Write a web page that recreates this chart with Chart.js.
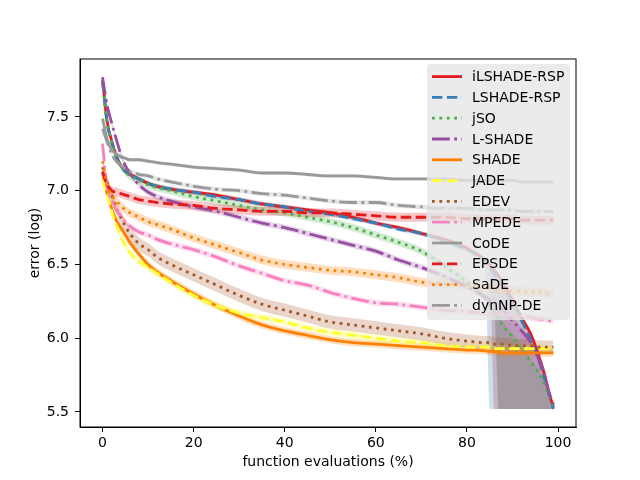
<!DOCTYPE html>
<html>
<head>
<meta charset="utf-8">
<script src="https://cdn.jsdelivr.net/npm/chart.js@4.4.0/dist/chart.umd.min.js"></script>
<style>
  body { margin: 0; background: #fff; }
</style>
</head>
<body>
<canvas id="chart" width="640" height="480"></canvas>
<script>
// eixo X: avaliações de função (%)
const evals = [0,1,2,3,4,5,6,8,10,12,15,20,25,30,35,40,45,50,55,60,65,70,75,80,84,85,86,87,88,90,92,94,96,97,98,99];

// curvas médias (log do erro)
const ilshadeRsp = [7.75,7.47,7.34,7.24,7.17,7.13,7.11,7.08,7.05,7.03,7.01,6.99,6.97,6.94,6.91,6.89,6.87,6.85,6.82,6.78,6.75,6.71,6.67,6.61,6.53,6.50,6.46,6.42,6.37,6.26,6.14,6.03,5.86,5.76,5.63,5.53];
const lshadeRsp  = [7.74,7.46,7.33,7.23,7.17,7.13,7.11,7.08,7.05,7.03,7.01,6.99,6.96,6.94,6.91,6.89,6.86,6.84,6.81,6.78,6.74,6.71,6.66,6.60,6.52,6.48,6.44,6.40,6.35,6.24,6.12,5.99,5.83,5.73,5.62,5.52];
const jso        = [7.74,7.46,7.33,7.23,7.17,7.13,7.10,7.07,7.04,7.02,7.00,6.96,6.93,6.90,6.87,6.85,6.82,6.79,6.75,6.70,6.65,6.59,6.49,6.38,6.27,6.22,6.17,6.13,6.08,6.01,5.93,5.84,5.75,5.69,5.61,5.54];
const lshade     = [7.77,7.58,7.46,7.35,7.25,7.17,7.12,7.04,6.99,6.96,6.93,6.89,6.86,6.82,6.78,6.75,6.71,6.67,6.63,6.59,6.53,6.48,6.42,6.35,6.28,6.26,6.24,6.22,6.19,6.12,6.05,5.97,5.84,5.76,5.64,5.55];
const shade      = [7.12,6.98,6.88,6.80,6.75,6.70,6.65,6.57,6.50,6.45,6.39,6.30,6.22,6.15,6.09,6.05,6.02,5.99,5.97,5.96,5.95,5.94,5.93,5.92,5.915,5.91,5.91,5.905,5.90,5.90,5.90,5.90,5.90,5.90,5.90,5.90];
const jade       = [7.07,6.97,6.86,6.77,6.69,6.63,6.58,6.52,6.48,6.44,6.38,6.29,6.22,6.17,6.14,6.11,6.07,6.04,6.02,6.00,5.98,5.97,5.95,5.94,5.94,5.94,5.93,5.93,5.93,5.93,5.93,5.93,5.93,5.93,5.93,5.93];
const edev       = [7.16,7.06,6.97,6.88,6.82,6.76,6.71,6.64,6.60,6.55,6.50,6.43,6.36,6.29,6.23,6.19,6.15,6.11,6.09,6.07,6.05,6.03,6.00,5.98,5.97,5.97,5.96,5.96,5.96,5.95,5.95,5.95,5.94,5.94,5.94,5.94];
const mpede      = [7.32,7.02,6.94,6.87,6.83,6.79,6.76,6.72,6.70,6.67,6.64,6.60,6.55,6.49,6.44,6.39,6.36,6.31,6.27,6.24,6.23,6.21,6.19,6.18,6.17,6.17,6.17,6.16,6.16,6.15,6.15,6.14,6.13,6.13,6.12,6.12];
const code       = [7.49,7.35,7.28,7.25,7.23,7.22,7.21,7.21,7.20,7.19,7.18,7.16,7.15,7.14,7.12,7.12,7.11,7.10,7.10,7.09,7.08,7.08,7.08,7.07,7.07,7.07,7.07,7.07,7.07,7.07,7.06,7.06,7.06,7.06,7.06,7.06];
const epsde      = [7.13,7.04,7.00,6.99,6.98,6.97,6.96,6.94,6.93,6.92,6.91,6.90,6.88,6.87,6.86,6.86,6.85,6.85,6.84,6.83,6.82,6.82,6.82,6.81,6.81,6.81,6.81,6.81,6.81,6.81,6.80,6.80,6.80,6.80,6.80,6.80];
const sade       = [7.20,7.04,6.97,6.93,6.90,6.87,6.85,6.82,6.79,6.77,6.74,6.68,6.63,6.58,6.53,6.50,6.48,6.46,6.45,6.43,6.41,6.38,6.37,6.36,6.34,6.34,6.33,6.33,6.33,6.32,6.32,6.31,6.31,6.31,6.30,6.30];
const dynnpde    = [7.42,7.33,7.25,7.20,7.17,7.15,7.13,7.11,7.10,7.08,7.06,7.03,7.01,7.00,6.98,6.97,6.95,6.93,6.92,6.92,6.90,6.89,6.88,6.88,6.87,6.87,6.87,6.87,6.87,6.87,6.86,6.86,6.86,6.86,6.86,6.86];

// meia largura da faixa sombreada de cada algoritmo
const spreads = [0.015,0.015,0.025,0.02,0.025,0.025,0.045,0.02,0.012,0.03,0.03,0.015];

// limite inferior das faixas no final (a partir de 84%)
const tailFrom = 84;
const ilshadeTail   = [6.51,6.48,5.52,5.52,5.52,5.52,5.52,5.52,5.52,5.52,5.52,5.52];
const lshadeRspTail = [6.50,5.52,5.52,5.52,5.52,5.52,5.52,5.52,5.52,5.52,5.52,5.52];
const jsoTail       = [6.25,6.20,6.15,5.52,5.52,5.52,5.52,5.52,5.52,5.52,5.52,5.52];
const lshadeTail    = [6.26,6.24,6.22,5.52,5.52,5.52,5.52,5.52,5.52,5.52,5.52,5.52];

const names = ['iLSHADE-RSP','LSHADE-RSP','jSO','L-SHADE','SHADE','JADE','EDEV','MPEDE','CoDE','EPSDE','SaDE','dynNP-DE'];
const means = [ilshadeRsp, lshadeRsp, jso, lshade, shade, jade, edev, mpede, code, epsde, sade, dynnpde];
const tails = [ilshadeTail, lshadeRspTail, jsoTail, lshadeTail];

// ticks dos eixos
const xTicks = [0, 20, 40, 60, 80, 100];
const yTicks = [5.5, 6.0, 6.5, 7.0, 7.5];
const yTickLabels = ['5.5', '6.0', '6.5', '7.0', '7.5'];

// estilo (paleta Set1 + ciclo de tracejados)
const colors = ['#e41a1c','#377eb8','#4daf4a','#984ea3','#ff7f00','#ffff33','#a65628','#f781bf','#999999','#e41a1c','#ff7f00','#999999'];
const dashCycle = [[], [10.4, 4.5], [2.8, 4.6], [17.8, 4.4, 2.8, 4.4]];

function rgba(hex, a) {
    const n = parseInt(hex.slice(1), 16);
    return 'rgba(' + (n >> 16) + ',' + ((n >> 8) & 255) + ',' + (n & 255) + ',' + a + ')';
}

const tailIdx = evals.indexOf(tailFrom);
let datasets = [];
names.forEach((name, i) => {
    const m = means[i];
    const upper = evals.map((x, j) => ({x: x, y: m[j] + spreads[i]}));
    const lower = evals.map((x, j) => {
        if (tails[i] && j >= tailIdx) return {x: x, y: tails[i][j - tailIdx]};
        return {x: x, y: m[j] - spreads[i]};
    });
    //faixa: limite superior + inferior preenchido até o anterior
    datasets.push({ data: upper, borderWidth: 0, pointRadius: 0, fill: false, order: 200 - i, cubicInterpolationMode: 'monotone' });
    datasets.push({ data: lower, borderWidth: 0, pointRadius: 0, fill: '-1', backgroundColor: rgba(colors[i], 0.25), order: 200 - i, cubicInterpolationMode: 'monotone' });
    //linha média
    datasets.push({
        label: name,
        data: evals.map((x, j) => ({x: x, y: m[j]})),
        borderColor: colors[i],
        borderWidth: 2.8,
        borderDash: dashCycle[i % 4],
        borderCapStyle: 'butt',
        pointRadius: 0,
        fill: false,
        order: 50 - i,
        cubicInterpolationMode: 'monotone'
    });
});

// moldura completa + legenda dentro da área do gráfico
const framePlugin = {
    id: 'frame',
    afterDraw(chart) {
        const ctx = chart.ctx, a = chart.chartArea;
        ctx.save();

        //legenda
        const bx = 427, by = 64, bw = 143, bh = 256, r = 4;
        ctx.fillStyle = 'rgba(230,230,230,0.8)';
        ctx.beginPath();
        ctx.roundRect(bx, by, bw, bh, r);
        ctx.fill();
        ctx.font = '14px "DejaVu Sans"';
        ctx.textBaseline = 'middle';
        ctx.fillStyle = '#000';
        names.forEach((name, i) => {
            const y = 76.6 + i * 20.8;
            ctx.strokeStyle = colors[i];
            ctx.lineWidth = 2.8;
            ctx.lineCap = 'butt';
            ctx.setLineDash(dashCycle[i % 4]);
            ctx.beginPath();
            ctx.moveTo(432, y);
            ctx.lineTo(462, y);
            ctx.stroke();
            ctx.fillText(name, 472, y + 1);
        });

        ctx.setLineDash([]);
        ctx.strokeStyle = '#000';
        ctx.lineWidth = 1;
        ctx.strokeRect(a.left, a.top, a.right - a.left, a.bottom - a.top);
        ctx.restore();
    }
};

Chart.defaults.font.family = 'DejaVu Sans';
Chart.defaults.font.size = 14;
Chart.defaults.color = '#000';

let ctx = document.getElementById('chart');
let chart = new Chart(ctx, {
    type: 'line',
    data: { datasets: datasets },
    options: {
        responsive: false,
        animation: false,
        layout: { padding: { left: 0, top: 59, right: 64, bottom: 0 } },
        plugins: {
            legend: { display: false },
            tooltip: { enabled: false }
        },
        scales: {
            x: {
                type: 'linear',
                min: -4.95,
                max: 103.95,
                afterBuildTicks: s => { s.ticks = xTicks.map(v => ({value: v})); },
                afterFit: s => { s.height = 53; },
                ticks: { padding: 3, maxRotation: 0 },
                grid: { drawOnChartArea: false, tickLength: 5, tickColor: '#000' },
                border: { color: '#000', width: 1 },
                title: { display: true, text: 'function evaluations (%)', padding: { top: 0, bottom: 9 } }
            },
            y: {
                type: 'linear',
                min: 5.398,
                max: 7.893,
                afterBuildTicks: s => { s.ticks = yTicks.map(v => ({value: v})); },
                afterFit: s => { s.width = 80; },
                ticks: {
                    padding: 6,
                    callback: v => yTickLabels[yTicks.indexOf(v)]
                },
                grid: { drawOnChartArea: false, tickLength: 5, tickColor: '#000' },
                border: { color: '#000', width: 1 },
                title: { display: true, text: 'error (log)', padding: { top: 27, bottom: 0 } }
            }
        }
    },
    plugins: [framePlugin]
});
</script>
</body>
</html>
